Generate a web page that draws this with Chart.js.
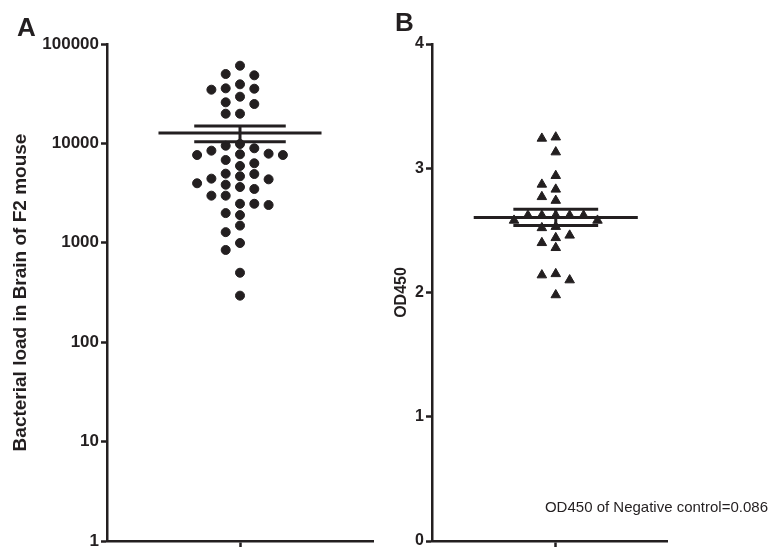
<!DOCTYPE html>
<html>
<head>
<meta charset="utf-8">
<script src="https://cdn.jsdelivr.net/npm/chart.js@4.4.0/dist/chart.umd.min.js"></script>
<style>
  html, body { margin: 0; padding: 0; background: #fff; }
  #wrap { position: relative; width: 773px; height: 547px; overflow: hidden; }
  canvas { position: absolute; top: 0; }
</style>
</head>
<body>
<div id="wrap">
  <canvas id="chartA" width="390" height="560" style="left:0"></canvas>
  <canvas id="chartB" width="383" height="560" style="left:390px"></canvas>
</div>
<script>
// Panel A - bacterial load per mouse
const loadA = [60500, 49900, 48400, 39300, 35800, 35500, 34700, 29500, 25900, 24900, 19900, 19900,
  9860, 9480, 8930, 8450, 7880, 7770, 7640, 7640, 6810, 6310, 5930, 4960, 4920, 4670, 4420, 4350,
  3970, 3840, 3640, 3480, 2980, 2980, 2470, 2470, 2400, 1990, 1900, 1490, 1280, 995, 847, 500, 294];
const yTicksA = [1, 10, 100, 1000, 10000, 100000];
const titleA = 'Bacterial load in Brain of F2 mouse';

// Panel B - OD450
const od450 = [3.25, 3.24, 3.13, 2.94, 2.87, 2.83, 2.77, 2.74, 2.62, 2.62, 2.62, 2.62, 2.62,
  2.58, 2.58, 2.53, 2.52, 2.46, 2.44, 2.40, 2.36, 2.15, 2.14, 2.10, 1.98];
const yTicksB = [0, 1, 2, 3, 4];
const titleB = 'OD450';
const noteB = 'OD450 of Negative control=0.086';

const INK = '#231f20';
const FONT = '"Liberation Sans", Arial, Helvetica, sans-serif';

// simple dot-plot layout: each point goes to the column nearest the middle
// where it doesn't bump into a dot already placed
function swarm(vals, gap, unit) {
  const order = vals.map((v, i) => i).sort((a, b) => vals[b] - vals[a]);
  const last = {};
  const xs = [];
  order.forEach(i => {
    const u = unit(vals[i]);
    for (let k = 0; ; k++) {
      const c = k === 0 ? 0 : (k % 2 ? -(k + 1) / 2 : k / 2);
      if (last[c] === undefined || last[c] - u >= gap) { last[c] = u; xs[i] = c; break; }
    }
  });
  return vals.map((v, i) => ({x: xs[i], y: v}));
}

function stats(v) {
  const n = v.length;
  const m = v.reduce((a, b) => a + b, 0) / n;
  const sd = Math.sqrt(v.reduce((a, b) => a + (b - m) * (b - m), 0) / (n - 1));
  return {m: m, se: sd / Math.sqrt(n)};
}

function meanSem(s, meanHalf, barHalf) {
  const base = {showLine: true, borderColor: INK, borderWidth: 3, pointRadius: 0, borderCapStyle: 'butt'};
  return [
    Object.assign({data: [{x: -meanHalf, y: s.m}, {x: meanHalf, y: s.m}]}, base),
    Object.assign({data: [{x: -barHalf, y: s.m + s.se}, {x: barHalf, y: s.m + s.se}]}, base),
    Object.assign({data: [{x: -barHalf, y: s.m - s.se}, {x: barHalf, y: s.m - s.se}]}, base),
    Object.assign({data: [{x: 0, y: s.m - s.se}, {x: 0, y: s.m + s.se}]}, base)
  ];
}

function textPlugin(letter, lx, ly, note) {
  return {
    id: 'panelText',
    afterDraw(chart) {
      const ctx = chart.ctx;
      ctx.save();
      ctx.fillStyle = INK;
      ctx.textBaseline = 'alphabetic';
      ctx.textAlign = 'left';
      ctx.font = 'bold 26px ' + FONT;
      ctx.fillText(letter, lx, ly);
      if (note) {
        ctx.font = '15px ' + FONT;
        ctx.textAlign = 'right';
        ctx.textBaseline = 'middle';
        ctx.fillText(note, 378, 508);
      }
      ctx.restore();
    }
  };
}

function xAxis(min, max) {
  return {
    type: 'linear', min: min, max: max,
    afterBuildTicks: s => { s.ticks = [{value: 0}]; },
    ticks: {display: false},
    grid: {drawOnChartArea: false, tickLength: 6, tickWidth: 2.5, tickColor: INK},
    border: {color: INK, width: 2.5}
  };
}

function yAxis(type, ticks, width, title, tickSize, titleSize, titlePad) {
  return {
    type: type, min: ticks[0], max: ticks[ticks.length - 1],
    afterBuildTicks: s => { s.ticks = ticks.map(v => ({value: v})); },
    afterFit: s => { s.width = width; },
    ticks: {callback: v => String(v), color: INK, padding: 2,
      font: {family: FONT, size: tickSize, weight: 'bold'}},
    grid: {drawOnChartArea: false, tickLength: 6, tickWidth: 2.5, tickColor: INK},
    border: {color: INK, width: 2.5},
    title: {display: true, text: title, color: INK, padding: {top: titlePad, bottom: 0},
      font: {family: FONT, size: titleSize, weight: 'bold'}}
  };
}

const statsA = stats(loadA);
new Chart(document.getElementById('chartA'), {
  type: 'scatter',
  data: {
    datasets: meanSem(statsA, 5.7, 3.2).concat([{
      data: swarm(loadA, 0.1, Math.log10),
      pointStyle: 'circle', pointRadius: 4.5, pointBorderWidth: 1,
      pointBackgroundColor: INK, pointBorderColor: INK
    }])
  },
  options: {
    responsive: false, animation: false,
    layout: {padding: {left: 0, right: 17, top: 44, bottom: 13}},
    plugins: {legend: {display: false}, tooltip: {enabled: false}},
    scales: {
      x: xAxis(-9.3, 9.3),
      y: yAxis('logarithmic', yTicksA, 107, titleA, 17, 19, 9)
    }
  },
  plugins: [textPlugin('A', 17, 36)]
});

const statsB = stats(od450);
new Chart(document.getElementById('chartB'), {
  type: 'scatter',
  data: {
    datasets: meanSem(statsB, 5.9, 3.05).concat([{
      data: swarm(od450, 0.072, v => v),
      pointStyle: 'triangle', pointRadius: 5.5, pointBorderWidth: 1,
      pointBackgroundColor: INK, pointBorderColor: INK
    }])
  },
  options: {
    responsive: false, animation: false,
    layout: {padding: {left: 0, right: 106, top: 44, bottom: 13}},
    plugins: {legend: {display: false}, tooltip: {enabled: false}},
    scales: {
      x: xAxis(-8.9, 8.0),
      y: yAxis('linear', yTicksB, 42, titleB, 16, 16, 2)
    }
  },
  plugins: [textPlugin('B', 5, 31, noteB)]
});
</script>
</body>
</html>
